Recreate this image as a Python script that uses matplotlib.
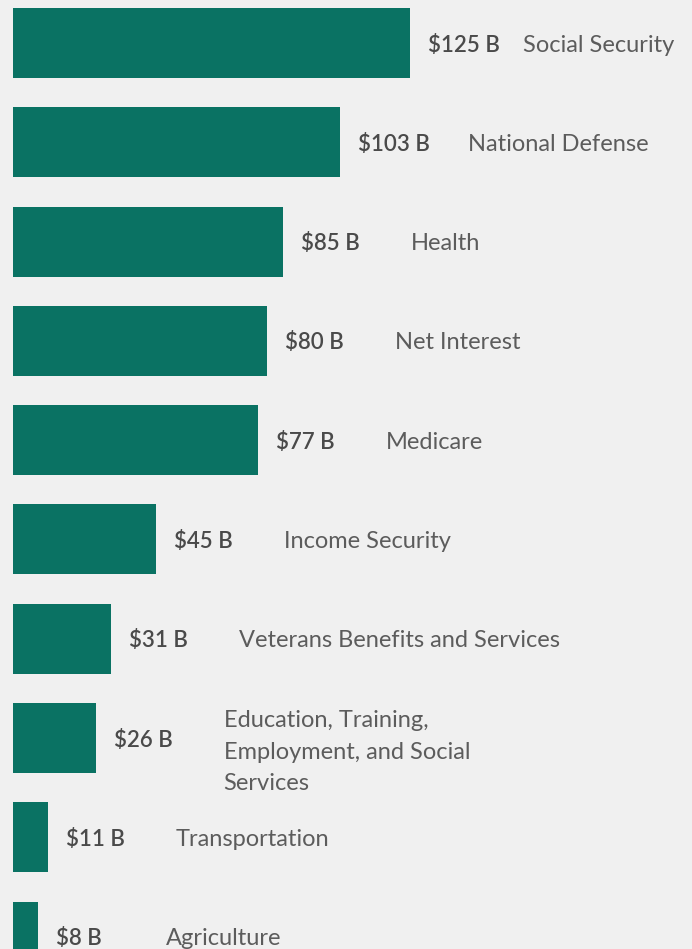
import matplotlib
matplotlib.use("Agg")
import matplotlib.pyplot as plt

categories = ["Social Security", "National Defense", "Health", "Net Interest", "Medicare",
              "Income Security", "Veterans Benefits and Services",
              "Education, Training,\nEmployment, and Social\nServices",
              "Transportation", "Agriculture"]
values = [125, 103, 85, 80, 77, 45, 31, 26, 11, 8]
value_labels = ["$125 B", "$103 B", "$85 B", "$80 B", "$77 B", "$45 B", "$31 B", "$26 B", "$11 B", "$8 B"]

BG = "#f0f0f0"
BAR = "#0a7263"
TXT = "#5c5c5c"
VAL = "#4a4a4a"

fig = plt.figure(figsize=(6.92, 9.49), dpi=100, facecolor=BG)
ax = fig.add_axes([0, 0, 1, 1], facecolor=BG)

px_per_unit = (410 - 13) / 125.0
x0 = -13 / px_per_unit
x1 = (692 - 13) / px_per_unit
pitch = 99.3
ax.set_xlim(x0, x1)
ax.set_ylim((949 - 43) / pitch, -43 / pitch)

ypos = list(range(len(values)))
ax.barh(ypos, values, height=70 / pitch, color=BAR, edgecolor="none")

font = "Lato"
pt = 72 / 100.0  # points per pixel
for i, (v, lab, cat) in enumerate(zip(values, value_labels, categories)):
    ax.annotate(lab, (v, i), xytext=(18 * pt, -2 * pt), textcoords="offset points",
                ha="left", va="center", fontsize=16, color=VAL, fontweight="semibold",
                family=font)
    off = 128 if i > 0 else 113
    dy = -14 if "\n" in cat else -2
    ax.annotate(cat, (v, i), xytext=(off * pt, dy * pt), textcoords="offset points",
                ha="left", va="center", fontsize=17, color=TXT, family=font,
                linespacing=1.62)

ax.axis("off")
fig.savefig("out.png", dpi=100, facecolor=BG)
